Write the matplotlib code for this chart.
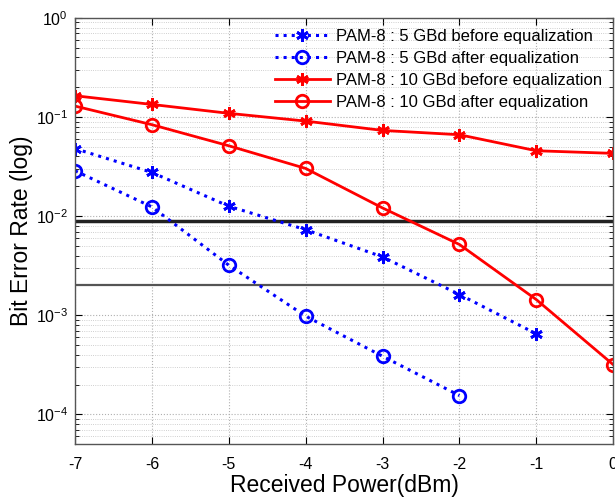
import numpy as np
import matplotlib
matplotlib.use('Agg')
import matplotlib.pyplot as plt

plt.rcParams['font.family'] = ['Liberation Sans', 'DejaVu Sans']
plt.rcParams['mathtext.fontset'] = 'custom'
plt.rcParams['mathtext.rm'] = 'Liberation Sans'
plt.rcParams['mathtext.it'] = 'Liberation Sans'
plt.rcParams['mathtext.default'] = 'regular'

# ----------------------------------------------------------------------- #
# data
power = [-7, -6, -5, -4, -3, -2, -1, 0]

ber_5g_before = [0.048, 0.0276, 0.0126, 0.0073, 0.00388, 0.00162, 0.00065]
ber_5g_after = [0.0287, 0.0124, 0.0032, 0.00098, 0.000386, 0.000155]
ber_10g_before = [0.164, 0.134, 0.109, 0.091, 0.0733, 0.0663, 0.0457, 0.043]
ber_10g_after = [0.129, 0.0837, 0.0513, 0.0303, 0.0121, 0.00518, 0.00144, 0.000318]

labels = ['PAM-8 : 5 GBd before equalization',
          'PAM-8 : 5 GBd after equalization',
          'PAM-8 : 10 GBd before equalization',
          'PAM-8 : 10 GBd after equalization']

fec_hi = 9e-3
fec_lo = 2e-3

# ----------------------------------------------------------------------- #
fig = plt.figure(figsize=(6.15, 4.98), dpi=100)
ax = fig.add_axes([0.122, 0.108, 0.875, 0.856])

asterisk = (6, 2, 0)
ax.semilogy(power[:len(ber_5g_before)], ber_5g_before, ':', color='blue', lw=2.2,
            marker=asterisk, ms=9, mew=2, label=labels[0])
ax.semilogy(power[:len(ber_5g_after)], ber_5g_after, ':', color='blue', lw=2.2,
            marker='o', ms=9, mfc='none', mew=2, label=labels[1])
ax.semilogy(power, ber_10g_before, '-', color='red', lw=2,
            marker=asterisk, ms=9, mew=2, label=labels[2])
ax.semilogy(power, ber_10g_after, '-', color='red', lw=2,
            marker='o', ms=9, mfc='none', mew=2, label=labels[3])

ax.axhline(fec_hi, color='#222222', lw=2.5, zorder=1)
ax.axhline(fec_lo, color='#555555', lw=1.6, zorder=1)

ax.set_xlim(-7, 0)
ax.set_ylim(5e-5, 1)
ax.set_xticks(power)
ax.set_xticklabels([str(p) for p in power])
ax.set_yticks([1e-4, 1e-3, 1e-2, 1e-1, 1])
ax.set_yticklabels([r'$10^{-4}$', r'$10^{-3}$', r'$10^{-2}$', r'$10^{-1}$', r'$10^{0}$'])
ax.yaxis.set_minor_locator(matplotlib.ticker.LogLocator(base=10, subs=np.arange(2, 10)))
ax.yaxis.set_minor_formatter(matplotlib.ticker.NullFormatter())

ax.grid(True, which='major', color='#b0b0b0', ls=':', lw=0.8)
ax.grid(True, which='minor', axis='y', color='#c0c0c0', ls=':', lw=0.6)
ax.set_axisbelow(True)

ax.tick_params(which='both', direction='in', top=True, right=True, labelsize=11.5)
ax.tick_params(axis='x', pad=9)
ax.tick_params(axis='y', pad=5)
ax.tick_params(which='major', length=5)
ax.tick_params(which='minor', length=3)
for s in ax.spines.values():
    s.set_color('#555555')
    s.set_linewidth(1)

ax.set_xlabel('Received Power(dBm)', fontsize=16.5, labelpad=2)
ax.set_ylabel('Bit Error Rate (log)', fontsize=16.5, labelpad=2)

ax.legend(loc='upper right', frameon=False, fontsize=12, handlelength=3.3,
          handletextpad=0.4, labelspacing=0.42, borderaxespad=0.25)

fig.savefig('out.png', dpi=100)
